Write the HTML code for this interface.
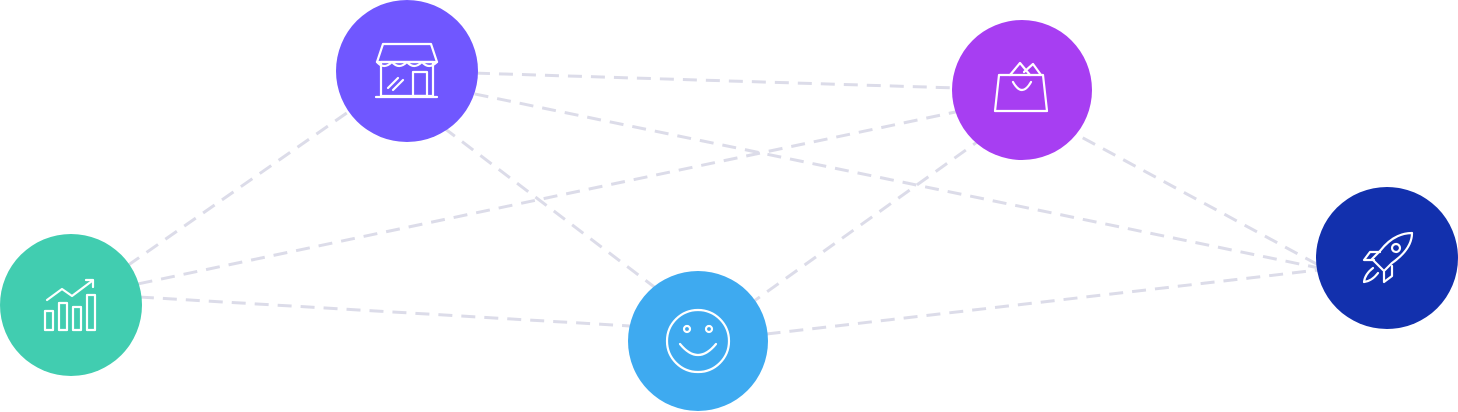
<!DOCTYPE html>
<html><head><meta charset="utf-8"><style>
html,body{margin:0;padding:0;background:#fff;width:1458px;height:412px;overflow:hidden}
</style></head><body>
<svg width="1458" height="412" viewBox="0 0 1458 412" xmlns="http://www.w3.org/2000/svg">
<g stroke="#dcdce9" stroke-width="3" stroke-dasharray="14 9" fill="none">
<line x1="71" y1="305" x2="407" y2="71"/>
<line x1="71" y1="298" x2="1022" y2="98"/>
<line x1="71" y1="293" x2="698" y2="330"/>
<line x1="407" y1="71" x2="1022" y2="90"/>
<line x1="407" y1="80" x2="1387" y2="282"/>
<line x1="407" y1="100" x2="698" y2="320"/>
<line x1="1022" y1="110" x2="698" y2="341"/>
<line x1="1022" y1="105" x2="1387" y2="302"/>
<line x1="698" y1="342" x2="1387" y2="262"/>
</g>
<circle cx="71" cy="305" r="71" fill="#41cdb0"/>
<circle cx="407" cy="71" r="71" fill="#7057ff"/>
<circle cx="1022" cy="90" r="70" fill="#a73ef2"/>
<circle cx="698" cy="341" r="70" fill="#3eaaf0"/>
<circle cx="1387" cy="258" r="71" fill="#1230ad"/>
<g stroke="#fff" stroke-width="2.2" fill="none" stroke-linejoin="round" stroke-linecap="round">
<rect x="45" y="311" width="8" height="19"/><rect x="59" y="303" width="8" height="27"/><rect x="73" y="307" width="8" height="23"/><rect x="87" y="295" width="8" height="35"/>
<polyline points="47,300 62,289 72,296 92,281"/><polyline points="86,280 93,280 93,287"/>
<rect x="381" y="62" width="52" height="34"/>
<path d="M377 62 h60 l-6 -18 h-48 z"/>
<path d="M377 62 q7 8 15 0 q7 8 15 0 q7 8 15 0 q7 8 15 0"/>
<rect x="413" y="72" width="14" height="24"/><line x1="388" y1="88" x2="398" y2="78"/><line x1="393" y1="90" x2="403" y2="80"/>
<line x1="376" y1="97" x2="437" y2="97"/>
<path d="M999 75 h44 l4 36 h-52 z"/><path d="M1013 82 q9 16 18 0"/><path d="M1010 75 l10 -12 l10 12"/><path d="M1024 72 l9 -8 l8 11"/>
<circle cx="698" cy="341" r="31"/><circle cx="687" cy="329" r="3"/><circle cx="709" cy="329" r="3"/><path d="M680 344 q18 22 36 0"/>
<path d="M1412 233 q-18 0 -32 18 l-8 8 l12 12 l8 -8 q20 -14 20 -30 z"/><circle cx="1396" cy="248" r="4"/>
<path d="M1380 252 h-10 l-6 8 l10 0"/><path d="M1392 266 v10 l-8 6 v-10"/><path d="M1373 268 q-8 6 -9 14 q8 -1 14 -9"/>
</g>
</svg>
</body></html>
